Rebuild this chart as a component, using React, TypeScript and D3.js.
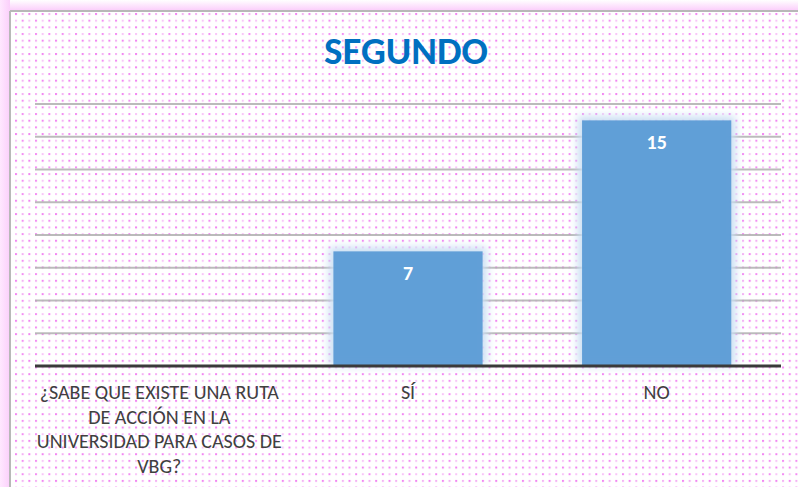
import React from "react";
import * as d3 from "d3";

const categories = ["¿SABE QUE EXISTE UNA RUTA DE ACCIÓN EN LA UNIVERSIDAD PARA CASOS DE VBG?", "SÍ", "NO"];
const values: (number | null)[] = [null, 7, 15];
const categoryLines = [
  ["¿SABE QUE EXISTE UNA RUTA", "DE ACCIÓN EN LA", "UNIVERSIDAD PARA CASOS DE", "VBG?"],
  ["SÍ"],
  ["NO"],
];
const yTicks = [0, 2, 4, 6, 8, 10, 12, 14, 16];
const title = "SEGUNDO";

export default function App() {
  const W = 798, H = 487;
  const left = 35, right = 781, top = 104, bottom = 366;
  const x = d3.scaleBand<string>().domain(categories).range([left, right]).paddingInner(0.4).paddingOuter(0.2);
  const y = d3.scaleLinear().domain([0, 16]).range([bottom, top]);
  const font = "Carlito, Calibri, Lato, sans-serif";
  return (
    <svg width={W} height={H} style={{ position: "absolute", left: 0, top: 0 }}>
      <defs>
        <pattern id="dots" width={13.34} height={13.34} patternUnits="userSpaceOnUse" x={15} y={13}>
          <rect x={0} y={0} width={2} height={2} fill="#f070f0" opacity={0.85} />
          <rect x={6.67} y={0} width={2} height={2} fill="#f090f0" opacity={0.7} />
          <rect x={0} y={6.67} width={2} height={2} fill="#f5a8f5" opacity={0.65} />
          <rect x={6.67} y={6.67} width={2} height={2} fill="#f070f0" opacity={0.8} />
        </pattern>
        <linearGradient id="topGlow" x1="0" y1="0" x2="0" y2="1">
          <stop offset="0" stopColor="#ffffff" />
          <stop offset="1" stopColor="#fbd0fb" />
        </linearGradient>
        <linearGradient id="leftGlow" x1="0" y1="0" x2="1" y2="0">
          <stop offset="0" stopColor="#ffe8ff" />
          <stop offset="1" stopColor="#fbcffb" />
        </linearGradient>
        <filter id="glow" x="-20%" y="-20%" width="140%" height="140%">
          <feGaussianBlur stdDeviation="4" />
        </filter>
      </defs>
      <rect x={0} y={0} width={W} height={H} fill="#fff" />
      <rect x={0} y={0} width={W} height={10} fill="url(#topGlow)" />
      <rect x={0} y={0} width={10} height={H} fill="url(#leftGlow)" />
      <rect x={11} y={12} width={W - 11} height={H - 12} fill="url(#dots)" />
      <line x1={10} x2={W} y1={11} y2={11} stroke="#b8b8b8" strokeWidth={2} />
      <line x1={10} x2={10} y1={11} y2={H} stroke="#b8b8b8" strokeWidth={2} />

      <text x={406} y={64} textAnchor="middle" fontFamily={font} fontWeight="bold" fontSize={39} fill="#0070C0">{title}</text>

      {yTicks.slice(1).map((t) => (
        <line key={t} x1={left} x2={right} y1={y(t)} y2={y(t)} stroke="#b0b0b0" strokeWidth={2} opacity={0.85} />
      ))}

      {categories.map((c, i) => {
        const v = values[i];
        if (v == null) return null;
        const bx = x(c)!;
        const bw = x.bandwidth();
        return (
          <g key={c}>
            <rect x={bx - 4} y={y(v) - 4} width={bw + 8} height={bottom - y(v) + 4} fill="#c9def3" filter="url(#glow)" />
            <rect x={bx} y={y(v)} width={bw} height={bottom - y(v)} fill="#5b9bd5" opacity={0.95} />
            <text x={bx + bw / 2} y={y(v) + 29} textAnchor="middle" fontFamily={font} fontWeight="bold" fontSize={20} fill="#fff">{v}</text>
          </g>
        );
      })}

      <line x1={left} x2={right} y1={bottom} y2={bottom} stroke="#3a3a3a" strokeWidth={3} />

      {categories.map((c, i) => {
        const cx = x(c)! + x.bandwidth() / 2;
        return (
          <text key={c} textAnchor="middle" fontFamily={font} fontSize={20} fill="#404040">
            {categoryLines[i].map((ln, j) => (
              <tspan key={j} x={cx} y={399 + j * 24.5}>{ln}</tspan>
            ))}
          </text>
        );
      })}
    </svg>
  );
}
